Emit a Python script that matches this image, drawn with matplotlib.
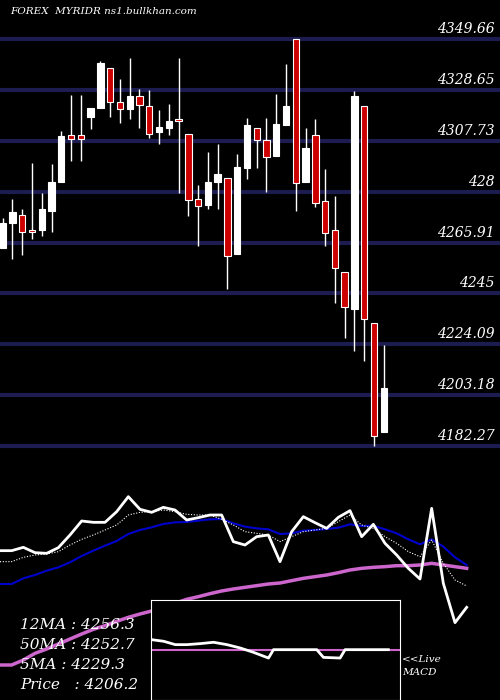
import numpy as np
import matplotlib.pyplot as plt

# candles: open, close, high, low
opens  = [4263.6, 4273.9, 4277.4, 4271.2, 4271.0, 4279.1, 4290.7, 4310.0, 4310.0, 4317.7,
          4321.1, 4337.9, 4323.6, 4320.7, 4326.1, 4322.2, 4311.3, 4313.2, 4316.3, 4310.7,
          4284.0, 4281.5, 4290.7, 4292.6, 4261.4, 4296.7, 4312.9, 4308.0, 4301.7, 4314.4,
          4349.8, 4291.0, 4310.0, 4282.9, 4271.0, 4254.0, 4238.7, 4322.2, 4233.0, 4188.2]
closes = [4273.9, 4278.4, 4270.1, 4270.1, 4279.6, 4290.7, 4309.6, 4308.4, 4308.4, 4321.1,
          4339.7, 4323.6, 4320.7, 4326.1, 4322.4, 4310.4, 4313.5, 4315.9, 4315.8, 4283.3,
          4280.8, 4290.7, 4294.1, 4260.3, 4297.0, 4314.1, 4308.0, 4301.0, 4314.6, 4322.0,
          4290.4, 4304.8, 4282.1, 4269.7, 4255.5, 4239.4, 4326.1, 4234.4, 4186.4, 4206.0]
highs  = [4275.9, 4283.7, 4279.6, 4298.5, 4286.2, 4298.1, 4311.8, 4326.5, 4326.5, 4321.1,
          4340.6, 4337.9, 4333.2, 4341.7, 4329.0, 4328.7, 4320.5, 4322.9, 4341.7, 4310.7,
          4289.5, 4303.2, 4306.5, 4292.6, 4302.2, 4317.0, 4312.9, 4317.0, 4327.0, 4339.5,
          4349.8, 4313.1, 4316.8, 4296.1, 4285.1, 4254.0, 4328.3, 4322.2, 4233.0, 4223.8]
lows   = [4263.6, 4259.3, 4260.8, 4267.3, 4268.8, 4270.1, 4290.7, 4299.6, 4299.6, 4312.8,
          4321.1, 4317.7, 4315.2, 4316.6, 4313.2, 4309.1, 4306.6, 4310.3, 4286.5, 4277.0,
          4264.7, 4279.9, 4279.9, 4247.0, 4261.4, 4292.2, 4296.7, 4286.7, 4301.7, 4314.4,
          4279.1, 4291.0, 4280.7, 4264.7, 4241.2, 4226.5, 4221.5, 4217.1, 4182.1, 4188.2]

levels = [4349.66, 4328.65, 4307.73, 4286.82, 4265.91, 4245.0, 4224.09, 4203.18, 4182.27]
level_labels = ["4349.66", "4328.65", "4307.73", "428", "4265.91", "4245", "4224.09", "4203.18", "4182.27"]

# lower panel lines (screen units, larger = lower)
price_line = [212, 212, 202, 218, 220, 203, 165, 123, 127, 127, 95, 50, 88, 97, 82, 90, 120, 113,
              105, 105, 185, 195, 170, 165, 245, 155, 110, 128, 145, 112, 92, 170, 133, 190, 225,
              265, 297, 85, 310, 428, 382]
ma5 = [245, 245, 232, 225, 222, 215, 195, 178, 165, 150, 135, 105, 97, 95, 90, 95, 103, 105, 105,
       118, 135, 155, 160, 165, 185, 170, 155, 150, 145, 125, 105, 135, 145, 170, 190, 215, 230,
       180, 250, 300, 318]
ma12 = [312, 312, 295, 285, 272, 262, 247, 228, 212, 197, 183, 162, 150, 142, 132, 127, 126, 122,
        118, 117, 130, 140, 145, 148, 162, 160, 152, 150, 147, 143, 133, 138, 137, 148, 160, 178,
        193, 178, 200, 232, 255]
ma50 = [555, 555, 540, 520, 507, 492, 477, 462, 448, 437, 424, 412, 402, 393, 383, 370, 358, 350,
        341, 333, 327, 322, 317, 312, 309, 302, 295, 290, 285, 278, 270, 265, 262, 260, 257, 257,
        255, 250, 255, 260, 265]

macd_x = [452, 490, 525, 560, 600, 640, 680, 720, 760, 805, 820, 950, 970, 1020, 1035, 1165]
macd_y = [480, 485, 495, 495, 492, 488, 495, 505, 518, 535, 510, 510, 533, 535, 510, 510]
signal_level = 510

fig = plt.figure(figsize=(5, 7), dpi=100, facecolor='black')

# price panel: pixels 0..450
ax = fig.add_axes([0, 1 - 450 / 700, 1, 450 / 700])
ax.set_facecolor('black')
ppx = (levels[0] - levels[-1]) / 407
ax.set_ylim(levels[0] - 411 * ppx, levels[0] + 39 * ppx)
ax.set_xlim(-0.276, 50.9)
ax.axis('off')
for lv, lab in zip(levels, level_labels):
    ax.axhline(lv, color='#1c1c50', lw=3, zorder=1)
    ax.text(0.99, lv + 3 * ppx, lab, transform=ax.get_yaxis_transform(), ha='right', va='bottom',
            color='white', fontsize=10, family='DejaVu Serif', style='italic')
for i in range(len(opens)):
    o, c = opens[i], closes[i]
    ax.vlines(i, lows[i], highs[i], color='white', lw=1, zorder=2)
    col = 'white' if c >= o else '#cc0000'
    ax.bar(i, max(abs(c - o), 1.0), bottom=min(o, c), width=0.65, color=col,
           edgecolor='white', lw=0.8, zorder=3)
ax.text(0.02, 0.985, "FOREX  MYRIDR ns1.bullkhan.com", transform=ax.transAxes, color='white',
        fontsize=7.5, family='DejaVu Serif', style='italic', va='top')

# indicator panel: pixels 480..700
ax2 = fig.add_axes([0, 0, 1, 220 / 700])
ax2.set_facecolor('black')
ax2.set_xlim(0, 1500 / 35)
ax2.set_ylim(660, 0)
ax2.axis('off')
idx = np.arange(len(ma50))
ax2.plot(idx, ma50, color='#cc66cc', lw=2.5)
ax2.plot(idx, ma12, color='#0000cc', lw=1.5)
ax2.plot(idx, ma5, color='white', lw=0.8, ls=(0, (1, 1.5)))
ax2.plot(idx, price_line, color='white', lw=2)

ax3 = fig.add_axes([151 / 500, 0, 249 / 500, 100 / 700])
ax3.set_facecolor('black')
ax3.set_xlim(452, 1200)
ax3.set_ylim(660, 362)
ax3.set_xticks([])
ax3.set_yticks([])
for s in ax3.spines.values():
    s.set_color('white')
ax3.axhline(signal_level, color='#cc66cc', lw=1.5)
ax3.plot(macd_x, macd_y, color='white', lw=2)

labels = ["12MA : 4256.3", "50MA : 4252.7", "5MA : 4229.3", "Price   : 4206.2"]
for k, t in enumerate(labels):
    fig.text(20 / 500, 1 - (625 + 20 * k) / 700, t, color='white', fontsize=11,
             family='DejaVu Serif', style='italic', va='center')
fig.text(402 / 500, 1 - 666 / 700, "<<Live\nMACD", color='white', fontsize=7.5,
         family='DejaVu Serif', style='italic', va='center', linespacing=1.5)

fig.savefig('out.png', dpi=100, facecolor='black')
